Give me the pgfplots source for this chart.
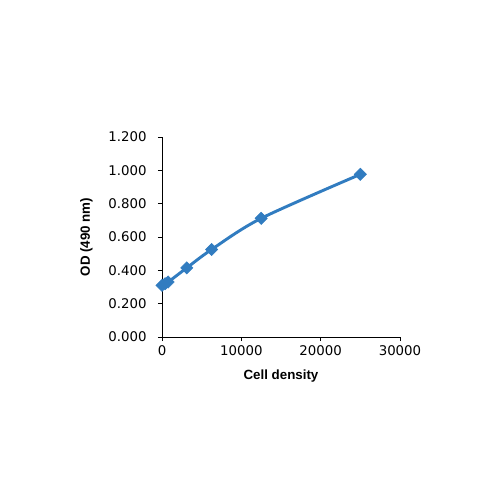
\documentclass[border=0pt]{standalone}
\usepackage{pgfplots}
\pgfplotsset{compat=1.18}
\usepackage{fontspec}
\setmainfont{DejaVu Sans}
\newfontfamily\labelfont{Liberation Sans}
\definecolor{odblue}{RGB}{49,124,192}

\begin{document}
\begin{tikzpicture}[x=0.75pt,y=0.75pt]
\begin{axis}[
    at={(0,0)}, anchor=origin,
    scale only axis,
    width=178.5pt, height=150pt,
    xmin=0, xmax=30000,
    ymin=0, ymax=1.2,
    axis x line=bottom, axis y line=left,
    axis line style={-, black, line width=0.6pt},
    tick align=outside,
    tick style={black, line width=0.6pt},
    major tick length=3pt,
    xtick={0,10000,20000,30000},
    ytick={0,0.2,0.4,0.6,0.8,1.0,1.2},
    scaled x ticks=false,
    scaled y ticks=false,
    /pgf/number format/assume math mode=true,
    xticklabel style={/pgf/number format/.cd, fixed, 1000 sep={}},
    yticklabel style={xshift=-5pt, /pgf/number format/.cd, fixed, fixed zerofill, precision=3},
    ticklabel style={font=\fontsize{10}{12}\selectfont},
    xlabel={\labelfont\bfseries Cell density},
    ylabel={\labelfont\bfseries OD (490 nm)},
    label style={font=\fontsize{10}{12}\selectfont},
    xlabel style={yshift=-4pt},
    ylabel style={yshift=5pt},
    clip=false,
]
\addplot[color=odblue, line width=2.2pt, smooth, tension=0.5,
    mark=square*, mark size=3.2pt, mark options={rotate=45, fill=odblue, draw=odblue, line width=0.5pt}]
coordinates {
    (0,0.310)
    (390,0.320)
    (780,0.330)
    (3125,0.415)
    (6250,0.525)
    (12500,0.712)
    (25000,0.976)
};
\end{axis}
\pgfresetboundingbox
\path (-162,-163) rectangle (338,337);
\end{tikzpicture}
\end{document}
